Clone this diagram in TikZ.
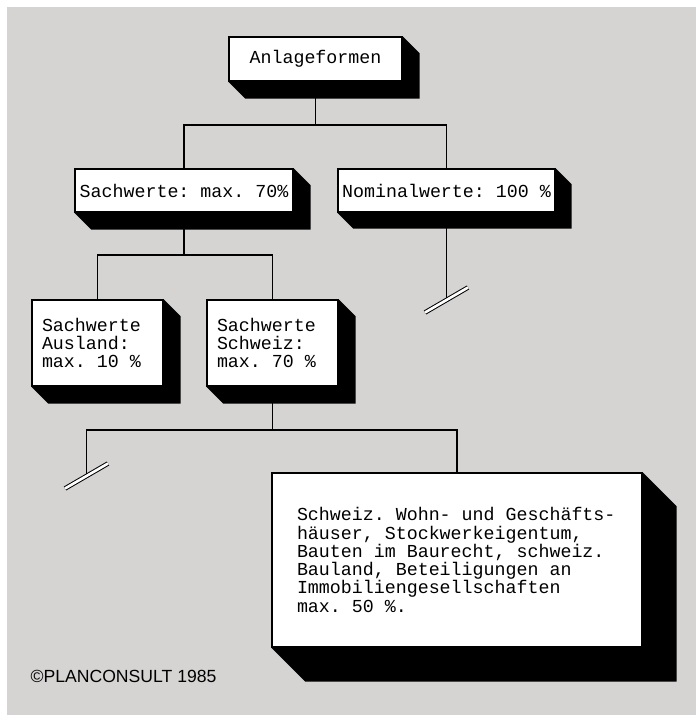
\documentclass[tikz,border=0pt]{standalone}
\usepackage{fontspec}
\usepackage{tikz}
\usetikzlibrary{calc}
\newfontfamily\mono{Liberation Mono}[WordSpace={1,0,0}]
\newfontfamily\helv{Liberation Sans}
\definecolor{paper}{RGB}{214,211,211}
\newcommand{\boxfont}{\mono\frenchspacing\fontsize{18.3}{18.3}\selectfont}
% black block shadow under and right of a box
\newcommand{\slab}[2]{\fill (#1.north east) -- ++(#2,#2) -- ($(#1.south east)+(#2,#2)$)
  -- ($(#1.south west)+(#2,#2)$) -- (#1.south west) -- (#1.south east) -- cycle;}

\begin{document}
\begin{tikzpicture}[x=1pt,y=-1pt,line width=1.3pt,
  tafel/.style={draw,fill=white,inner sep=0pt,font=\boxfont,align=left,
    execute at begin node={\spaceskip=0pt\xspaceskip=0pt}},
  bruch/.style={double,double distance=2.6pt,line width=1pt}]
  \useasboundingbox (0,0) rectangle (696,715);
  \fill[paper] (7,7) rectangle (696,715);
  % boxes
  \node[tafel,minimum width=173pt,minimum height=44pt] (anl) at (315.5,59) {Anlageformen};
  \node[tafel,minimum width=218pt,minimum height=43pt] (sach) at (184,190.5) {Sachwerte: max. 70\%};
  \node[tafel,minimum width=217pt,minimum height=43pt] (nom) at (446.5,190.5) {Nominalwerte: 100 \%};
  \node[tafel,minimum width=131pt,minimum height=86pt,text width=111pt] (ausl) at (97.5,343)
    {Sachwerte\\Ausland:\\max. 10 \%};
  \node[tafel,minimum width=131pt,minimum height=86pt,text width=111pt] (schw) at (272.5,343)
    {Sachwerte\\Schweiz:\\max. 70 \%};
  \node[tafel,minimum width=370pt,minimum height=174pt,text width=320pt] (bau) at (457,560)
    {Schweiz. Wohn- und Geschäfts-\\häuser, Stockwerkeigentum,\\Bauten im Baurecht, schweiz.\\Bauland, Beteiligungen an\\Immobiliengesellschaften\\max. 50 \%.};
  % connectors
  \coordinate (j1) at (315.5,125);
  \coordinate (j2) at (184,255);
  \coordinate (j3) at (272.5,430);
  \coordinate (cutN) at (446.5,300);
  \coordinate (cutS) at (86.5,476);
  \draw (anl) -- (j1);
  \draw (sach.north) |- (j1) -| (nom.north);
  \draw (sach) -- (j2);
  \draw (ausl.north) |- (j2) -| (schw.north);
  \draw (nom) -- (cutN);
  \draw (schw) -- (j3);
  \draw (cutS) |- (j3) -| (bau.north);
  \draw[bruch] ($(cutN)+(-21.5,12.5)$) -- ($(cutN)+(21.5,-12.5)$);
  \draw[bruch] ($(cutS)+(-21.5,12.5)$) -- ($(cutS)+(21.5,-12.5)$);
  % shadows
  \slab{anl}{17}
  \slab{sach}{17}
  \slab{nom}{16}
  \slab{ausl}{17}
  \slab{schw}{17}
  \slab{bau}{34}
  \node[font=\helv\fontsize{17.6}{17.6}\selectfont,anchor=base west,inner sep=0pt] (copy) at (30,682)
    {©PLANCONSULT 1985};
\end{tikzpicture}
\end{document}
